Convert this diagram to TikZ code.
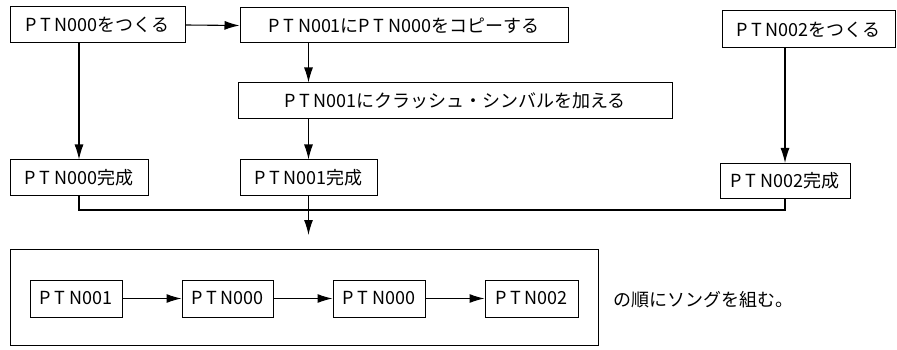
\documentclass[tikz,border=0pt]{standalone}
\usepackage{fontspec}
\setmainfont{Noto Sans CJK JP}
\usetikzlibrary{arrows.meta}
\newcommand{\PTN}{P\hspace{0.2em}T\hspace{0.2em}N}
\begin{document}
\begin{tikzpicture}[x=1pt,y=-1pt,
  bx/.style={draw, line width=1pt, inner sep=0pt, font=\fontsize{18}{20}\selectfont},
  arr/.style={line width=1.1pt, -{Latex[length=15pt,width=9pt]}},
  ln/.style={line width=1.1pt}]
\useasboundingbox (0,0) rectangle (897,350);
\node[bx, minimum width=175, minimum height=36] (A) at (97.5,25) {\PTN000をつくる};
\node[bx, minimum width=328, minimum height=35] (B) at (404,25.5) {\PTN001に\PTN000をコピーする};
\node[bx, minimum width=434, minimum height=36] (C) at (455,101) {\PTN001にクラッシュ・シンバルを加える};
\node[bx, minimum width=137, minimum height=35] (D) at (308.5,177.5) {\PTN001完成};
\node[bx, minimum width=138, minimum height=35] (E) at (79,177.5) {\PTN000完成};
\node[bx, minimum width=173, minimum height=37] (F) at (808.5,29.5) {\PTN002をつくる};
\node[bx, minimum width=130, minimum height=35] (G) at (785,181) {\PTN002完成};
\node[bx, minimum width=588, minimum height=96] (grp) at (304,297) {};
\node[bx, minimum width=92, minimum height=37] (b1) at (76,298.5) {\PTN001};
\node[bx, minimum width=91, minimum height=37] (b2) at (227.5,298.5) {\PTN000};
\node[bx, minimum width=92, minimum height=37] (b3) at (379,298.5) {\PTN000};
\node[bx, minimum width=93, minimum height=37] (b4) at (531.5,298.5) {\PTN002};
\node[bx, draw=none] (txt) at (703,300) {の順にソングを組む。};
\coordinate (mj) at (308.5,210);
\coordinate (tipD) at (308.5,235);
\draw[arr] (A.east) -- (B.west);
\draw[arr] (A.south -| E.north) -- (E.north);
\draw[arr] (B.south -| D.north) -- (C.north -| D.north);
\draw[arr] (C.south -| D.north) -- (D.north);
\draw[arr] (F.south -| G.north) -- (G.north);
\draw[ln] (E.south) |- (mj) -| (G.south);
\draw[arr] (D.south) -- (tipD);
\draw[arr] (b1) -- (b2);
\draw[arr] (b2) -- (b3);
\draw[arr] (b3) -- (b4);
\end{tikzpicture}
\end{document}
